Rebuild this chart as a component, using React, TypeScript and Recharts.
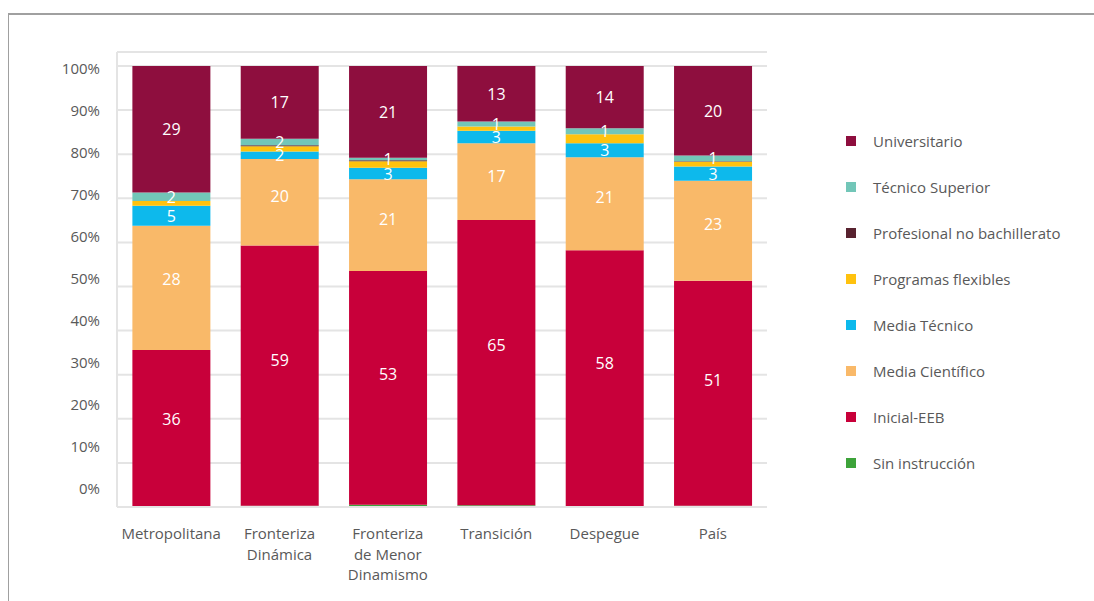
import React from 'react';
import { BarChart, Bar, XAxis, YAxis, CartesianGrid, LabelList } from 'recharts';

const categories = [
  'Metropolitana',
  'Fronteriza Dinámica',
  'Fronteriza de Menor Dinamismo',
  'Transición',
  'Despegue',
  'País',
];
const tickLabelLines: string[][] = [
  ['Metropolitana'],
  ['Fronteriza', 'Dinámica'],
  ['Fronteriza', 'de Menor', 'Dinamismo'],
  ['Transición'],
  ['Despegue'],
  ['País'],
];
const yTicks = [0, 10, 20, 30, 40, 50, 60, 70, 80, 90, 100];

const sinInstruccion = [0, 0.3, 0.5, 0.4, 0, 0.3];
const inicialEEB = [35.6, 59.0, 53.0, 64.7, 58.2, 51.0];
const mediaCientifico = [28.2, 19.6, 20.8, 17.4, 21.1, 22.7];
const mediaTecnico = [4.5, 1.7, 2.6, 2.8, 3.2, 3.2];
const programasFlexibles = [1.1, 1.2, 1.5, 1.0, 2.0, 1.1];
const profesionalNoBachillerato = [0, 0.2, 0.2, 0, 0, 0.1];
const tecnicoSuperior = [1.9, 1.5, 0.6, 1.1, 1.4, 1.3];
const universitario = [28.7, 16.5, 20.8, 12.6, 14.1, 20.3];

const FONT = '"Open Sans", sans-serif';
const TEXT = '#595959';

const series = [
  { key: 'sin', name: 'Sin instrucción', values: sinInstruccion, color: '#3DA33A', label: false, shift: 0 },
  { key: 'ini', name: 'Inicial-EEB', values: inicialEEB, color: '#C8003A', label: true, shift: 0.06 },
  { key: 'mc', name: 'Media Científico', values: mediaCientifico, color: '#F9B969', label: true, shift: 0.07 },
  { key: 'mt', name: 'Media Técnico', values: mediaTecnico, color: '#0DB9EC', label: true, shift: 0 },
  { key: 'pf', name: 'Programas flexibles', values: programasFlexibles, color: '#FFC20E', label: false, shift: 0 },
  { key: 'pnb', name: 'Profesional no bachillerato', values: profesionalNoBachillerato, color: '#58222F', label: false, shift: 0 },
  { key: 'ts', name: 'Técnico Superior', values: tecnicoSuperior, color: '#72C6B8', label: true, shift: 0 },
  { key: 'uni', name: 'Universitario', values: universitario, color: '#8E0E3E', label: true, shift: 0 },
];

const data = categories.map((c, i) => {
  const row: Record<string, any> = { category: c, idx: i };
  series.forEach((s) => {
    row[s.key] = s.values[i];
  });
  return row;
});

const YTick = (props: any) => {
  const { x, y, payload } = props;
  const v = payload.value as number;
  const offset = -19 + 0.21 * v;
  return (
    <text x={x - 9} y={y + offset} textAnchor="end" dominantBaseline="central" fill={TEXT} fontSize={15} fontFamily={FONT}>
      {v}%
    </text>
  );
};

const XTick = (props: any) => {
  const { x, y, payload } = props;
  const idx = categories.indexOf(payload.value);
  const lines = tickLabelLines[idx] || [payload.value];
  return (
    <g>
      {lines.map((ln, i) => (
        <text key={i} x={x} y={y + 18 + i * 20.5} textAnchor="middle" dominantBaseline="central" fill={TEXT} fontSize={15} fontFamily={FONT}>
          {ln}
        </text>
      ))}
    </g>
  );
};

const makeLabel = (shift: number) => (props: any) => {
  const { x, y, width, height, value } = props;
  if (value == null) return null;
  const h = Math.abs(height);
  const top = Math.min(y, y + height);
  const cy = top + h / 2 - shift * h;
  return (
    <text x={x + width / 2} y={cy} textAnchor="middle" dominantBaseline="central" fill="#ffffff" fontSize={16} fontFamily={FONT}>
      {Math.round(value)}
    </text>
  );
};

const legendOrder = [...series].reverse();

export default function App() {
  return (
    <div style={{ position: 'absolute', left: 0, top: 0, width: 1094, height: 601, background: '#fff', overflow: 'hidden' }}>
      <div
        style={{
          position: 'absolute',
          left: 8,
          top: 13,
          right: -10,
          bottom: -10,
          borderTop: '2px solid #a0a0a0',
          borderLeft: '1px solid #a0a0a0',
        }}
      />
      <div style={{ position: 'absolute', left: 0, top: 0 }}>
        <BarChart
          width={1094}
          height={601}
          data={data}
          margin={{ top: 52, right: 327, bottom: 0, left: 0 }}
          barCategoryGap="14.2%"
        >
          <CartesianGrid vertical={false} stroke="#e4e4e4" strokeWidth={2} />
          <XAxis
            dataKey="category"
            axisLine={{ stroke: '#e4e4e4', strokeWidth: 2 }}
            tickLine={false}
            tick={<XTick />}
            interval={0}
            height={94}
          />
          <YAxis
            type="number"
            domain={[0, 103.17]}
            ticks={yTicks}
            width={117}
            axisLine={{ stroke: '#e4e4e4', strokeWidth: 2 }}
            tickLine={false}
            tick={<YTick />}
            interval={0}
          />
          {series.map((s) => (
            <Bar key={s.key} dataKey={s.key} stackId="a" fill={s.color} isAnimationActive={false}>
              {s.label ? <LabelList dataKey={s.key} content={makeLabel(s.shift)} /> : null}
            </Bar>
          ))}
        </BarChart>
      </div>
      {legendOrder.map((s, i) => (
        <div
          key={s.key}
          style={{ position: 'absolute', left: 846, top: 141 + i * 46 - 10, height: 20, display: 'flex', alignItems: 'center' }}
        >
          <div style={{ width: 10, height: 10, background: s.color }} />
          <span style={{ marginLeft: 17, fontFamily: FONT, fontSize: 15, color: TEXT, whiteSpace: 'nowrap' }}>{s.name}</span>
        </div>
      ))}
    </div>
  );
}
